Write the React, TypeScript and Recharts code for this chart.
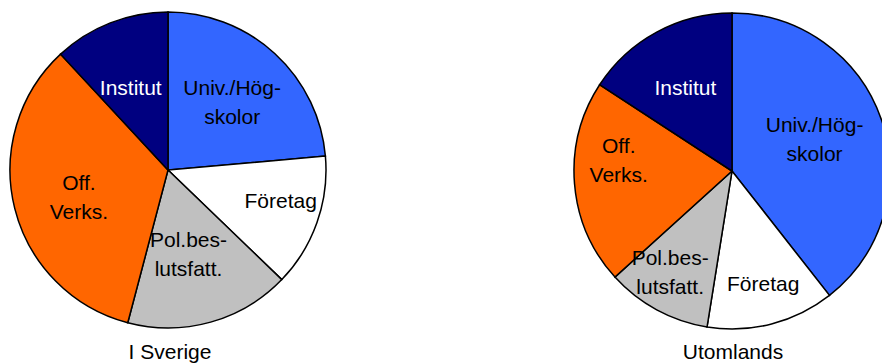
import React from 'react';
import { PieChart, Pie, Cell } from 'recharts';

// Share of contacts per sector, clockwise from 12 o'clock
const SECTORS = ['Univ./Högskolor', 'Företag', 'Pol.beslutsfatt.', 'Off. Verks.', 'Institut'];
const SVERIGE = [23.6, 13.6, 16.9, 34.0, 11.9];
const UTOMLANDS = [39.4, 13.1, 10.75, 20.9, 15.8];
const TITLES = ['I Sverige', 'Utomlands'];

// How each sector label is broken over lines
const LABEL_LINES: Record<string, string[]> = {
  'Univ./Högskolor': ['Univ./Hög-', 'skolor'],
  'Företag': ['Företag'],
  'Pol.beslutsfatt.': ['Pol.bes-', 'lutsfatt.'],
  'Off. Verks.': ['Off.', 'Verks.'],
  'Institut': ['Institut'],
};

const COLORS = ['#3366ff', '#ffffff', '#c0c0c0', '#ff6600', '#000080'];
const TEXT_COLORS = ['#000', '#000', '#000', '#000', '#fff'];

// label placement: radius as a fraction of the pie radius, plus an angle nudge in degrees
const PLACE_LEFT = [
  { r: 0.59, da: -1 },
  { r: 0.74, da: 4 },
  { r: 0.55, da: -2 },
  { r: 0.59, da: 3 },
  { r: 0.57, da: 3 },
];
const PLACE_RIGHT = [
  { r: 0.56, da: 2 },
  { r: 0.74, da: 1 },
  { r: 0.75, da: -3 },
  { r: 0.72, da: -10 },
  { r: 0.6, da: 1 },
];

const FONT = '"Liberation Sans", Arial, sans-serif';
const FONT_SIZE = 21;
const LINE_GAP = 29;
const RADIUS = 158;
const RAD = Math.PI / 180;

const toRows = (values: number[]) => SECTORS.map((name, i) => ({ name, value: values[i] }));

const makeLabel = (place: { r: number; da: number }[]) => (props: any) => {
  const { cx, cy, midAngle, outerRadius, index, name } = props;
  const p = place[index];
  const a = (midAngle + p.da) * RAD;
  const x = cx + outerRadius * p.r * Math.cos(a);
  const y = cy - outerRadius * p.r * Math.sin(a);
  const lines = LABEL_LINES[name] || [name];
  return (
    <text
      x={x}
      y={y}
      textAnchor="middle"
      fill={TEXT_COLORS[index]}
      fontFamily={FONT}
      fontSize={FONT_SIZE}
    >
      {lines.map((line, i) => (
        <tspan key={line} x={x} y={y + (i - (lines.length - 1) / 2) * LINE_GAP + 7}>
          {line}
        </tspan>
      ))}
    </text>
  );
};

const App: React.FC = () => {
  const pies = [
    { data: toRows(SVERIGE), cx: 168, cy: 170, place: PLACE_LEFT },
    { data: toRows(UTOMLANDS), cx: 732, cy: 171, place: PLACE_RIGHT },
  ];

  return (
    <div style={{ position: 'absolute', left: 0, top: 0, width: 882, height: 363, background: '#fff' }}>
      <PieChart width={882} height={363} margin={{ top: 0, right: 0, bottom: 0, left: 0 }}>
        {pies.map((pie, k) => (
          <Pie
            key={k}
            data={pie.data}
            dataKey="value"
            nameKey="name"
            cx={pie.cx}
            cy={pie.cy}
            outerRadius={RADIUS}
            startAngle={90}
            endAngle={-270}
            stroke="#000"
            strokeWidth={1.5}
            labelLine={false}
            label={makeLabel(pie.place)}
            isAnimationActive={false}
          >
            {pie.data.map((row, i) => (
              <Cell key={row.name} fill={COLORS[i]} />
            ))}
          </Pie>
        ))}
      </PieChart>
      {TITLES.map((title, k) => (
        <div
          key={title}
          style={{
            position: 'absolute',
            left: (k === 0 ? 170 : 733) - 100,
            top: 340,
            width: 200,
            textAlign: 'center',
            fontFamily: FONT,
            fontSize: FONT_SIZE,
            lineHeight: '24px',
            color: '#000',
          }}
        >
          {title}
        </div>
      ))}
    </div>
  );
};

export default App;
